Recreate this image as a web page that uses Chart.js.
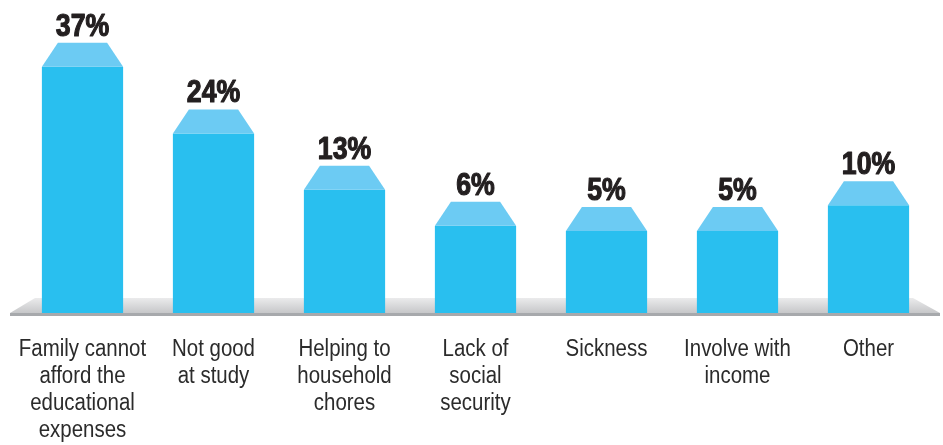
<!DOCTYPE html>
<html>
<head>
<meta charset="utf-8">
<script src="https://cdn.jsdelivr.net/npm/chart.js@4.4.1/dist/chart.umd.min.js"></script>
<style>
  html, body { margin: 0; padding: 0; background: #fff; }
  #wrap { width: 943px; height: 445px; }
</style>
</head>
<body>
<div id="wrap"><canvas id="reasonChart" width="943" height="445"></canvas></div>
<script>
const categories = [
    ['Family cannot', 'afford the', 'educational', 'expenses'],
    ['Not good', 'at study'],
    ['Helping to', 'household', 'chores'],
    ['Lack of', 'social', 'security'],
    ['Sickness'],
    ['Involve with', 'income'],
    ['Other']
];
const shares = [37, 24, 13, 6, 5, 5, 10];
const axisMin = -11;
const axisMax = 50;

const baseFont = "'Liberation Sans', Arial, sans-serif";

// writes text squeezed horizontally to get a condensed face
function narrowText(ctx, text, x, y, squeeze, stroke) {
    ctx.save();
    ctx.translate(x, y);
    ctx.scale(squeeze, 1);
    if (stroke) ctx.strokeText(text, 0, 0);
    ctx.fillText(text, 0, 0);
    ctx.restore();
}

// grey platform under the bars
const floorPlugin = {
    id: 'floor',
    beforeDatasetsDraw(chart) {
        const ctx = chart.ctx;
        const bottom = chart.scales.y.getPixelForValue(axisMin);
        const top = bottom - 15;
        const left = 10, right = 940;
        const grad = ctx.createLinearGradient(0, top, 0, bottom);
        grad.addColorStop(0, '#ebebec');
        grad.addColorStop(1, '#c6c7c9');
        ctx.save();
        ctx.fillStyle = grad;
        ctx.beginPath();
        ctx.moveTo(left, bottom);
        ctx.lineTo(left + 25, top);
        ctx.lineTo(right - 27, top);
        ctx.lineTo(right, bottom);
        ctx.closePath();
        ctx.fill();
        ctx.fillStyle = '#a7a9ac';
        ctx.fillRect(left, bottom, right - left, 3);
        ctx.restore();
    }
};

// lighter bevelled cap on each bar plus the percentage above it
const capPlugin = {
    id: 'caps',
    afterDatasetsDraw(chart) {
        const ctx = chart.ctx;
        const meta = chart.getDatasetMeta(0);
        ctx.save();
        meta.data.forEach((bar, i) => {
            const half = bar.width / 2;
            const capH = 24, inset = 16;
            ctx.fillStyle = '#6ccbf3';
            ctx.beginPath();
            ctx.moveTo(bar.x - half, bar.y);
            ctx.lineTo(bar.x - half + inset, bar.y - capH);
            ctx.lineTo(bar.x + half - inset, bar.y - capH);
            ctx.lineTo(bar.x + half, bar.y);
            ctx.closePath();
            ctx.fill();

            ctx.fillStyle = '#231f20';
            ctx.strokeStyle = '#231f20';
            ctx.lineWidth = 1.2;
            ctx.lineJoin = 'round';
            ctx.font = "bold 31px " + baseFont;
            ctx.textAlign = 'center';
            ctx.textBaseline = 'alphabetic';
            narrowText(ctx, shares[i] + '%', bar.x, bar.y - capH - 7, 0.86, true);
        });
        ctx.restore();
    }
};

// category names under the platform, one line per array entry
const categoryLabels = {
    id: 'categoryLabels',
    afterDraw(chart) {
        const ctx = chart.ctx;
        const xScale = chart.scales.x;
        ctx.save();
        ctx.fillStyle = '#2b2b2b';
        ctx.font = "23.5px " + baseFont;
        ctx.textAlign = 'center';
        ctx.textBaseline = 'alphabetic';
        categories.forEach((lines, i) => {
            const x = xScale.getPixelForValue(i);
            lines.forEach((line, k) => {
                narrowText(ctx, line, x, 356 + k * 27, 0.87, false);
            });
        });
        ctx.restore();
    }
};

const ctx = document.getElementById('reasonChart').getContext('2d');
new Chart(ctx, {
    type: 'bar',
    data: {
        labels: categories,
        datasets: [{
            data: shares,
            base: axisMin,
            backgroundColor: '#29bfef',
            borderWidth: 0,
            barPercentage: 0.62,
            categoryPercentage: 1
        }]
    },
    options: {
        responsive: false,
        animation: false,
        layout: {
            padding: { left: 17, right: 9, top: 0, bottom: 132 }
        },
        plugins: {
            legend: { display: false },
            tooltip: { enabled: false }
        },
        scales: {
            x: {
                display: false
            },
            y: {
                display: false,
                min: axisMin,
                max: axisMax
            }
        }
    },
    plugins: [floorPlugin, capPlugin, categoryLabels]
});
</script>
</body>
</html>
